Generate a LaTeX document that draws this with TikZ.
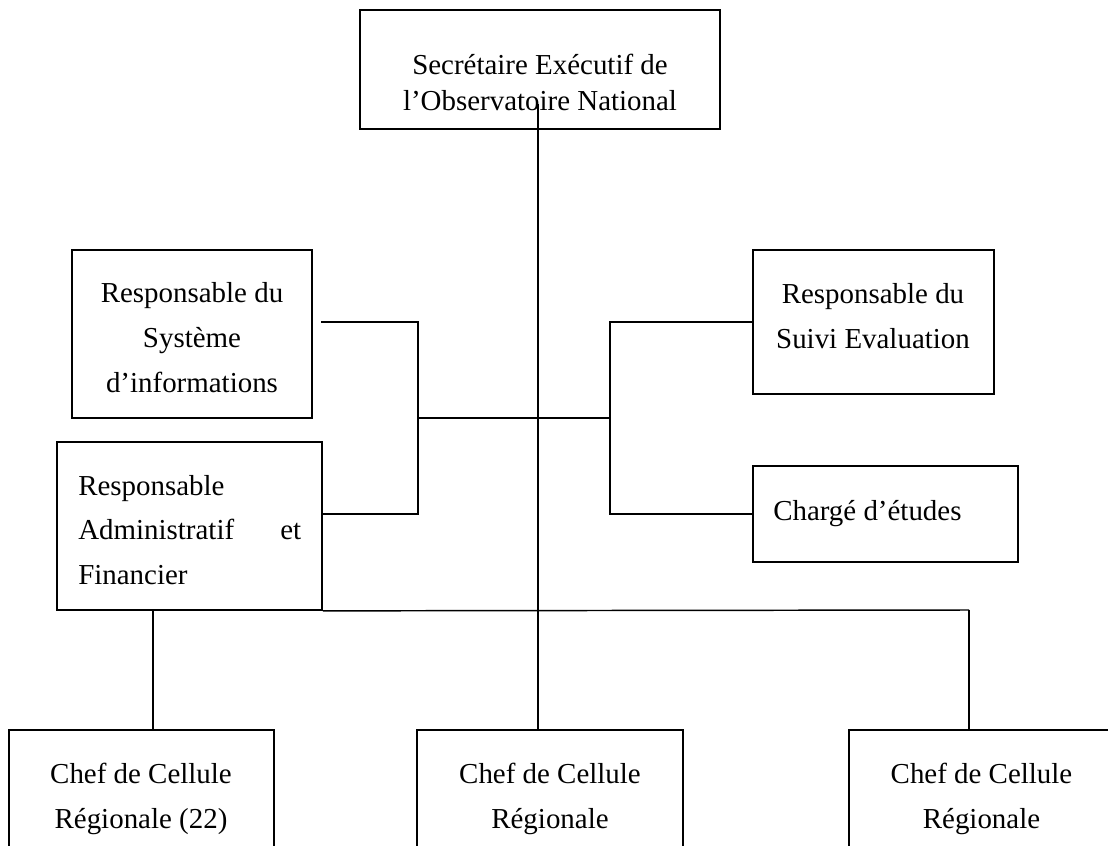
\documentclass[tikz,border=0pt]{standalone}
\usepackage{fontspec}
\setmainfont{Liberation Serif}
\begin{document}
\begin{tikzpicture}[x=0.75pt,y=-0.75pt,
  pbox/.style n args={2}{draw, line width=1.3pt, inner sep=0pt,
    minimum width=#1*0.75pt, minimum height=#2*0.75pt},
  conn/.style={line width=1.1pt},
  label/.style={inner sep=0pt, align=center,
    font=\fontsize{21.7}{33.4}\selectfont}]
\clip (0,0) rectangle (1108,846);
\fill[white] (0,0) rectangle (1108,846);

% boxes
\node[pbox={360}{119}] (se)  at (540,69.5) {};
\node[pbox={240}{168}] (rsi) at (192,334) {};
\node[pbox={265}{168}] (raf) at (189.5,526) {};
\node[pbox={241}{144}] (rse) at (873.5,322) {};
\node[pbox={265}{96}]  (ce)  at (885.5,514) {};
\node[pbox={265}{140}] (cr1) at (141.5,800) {};
\node[pbox={266}{140}] (cr2) at (550,800) {};
\node[pbox={265}{140}] (cr3) at (981.5,800) {};

% texts (centred blocks are placed by the baseline of their last line)
\node[label, anchor=base, font=\fontsize{21.7}{26.3}\selectfont] (se-t) at (540,110)
  {Secrétaire Exécutif de\\l’Observatoire National};
\node[label, anchor=base] (rsi-t) at (192,392) {Responsable du\\Système\\d’informations};
\node[label, anchor=base west, align=left, text width=223*0.75pt] (raf-t) at (78,495)
  {Responsable\\Administratif\hfill et\\Financier};
\node[label, anchor=base] (rse-t) at (873,348) {Responsable du\\Suivi Evaluation};
\node[label, anchor=base west] (ce-t) at (773,520) {Chargé d’études};
\node[label, anchor=base] (cr1-t) at (141,828) {Chef de Cellule\\Régionale (22)};
\node[label, anchor=base] (cr2-t) at (550,828) {Chef de Cellule\\Régionale};
\node[label, anchor=base] (cr3-t) at (981.5,828) {Chef de Cellule\\Régionale};

% junction points
\coordinate (spine) at (538,104);
\coordinate (rsi-out) at (321,322);
\coordinate (jl) at (418,418);
\coordinate (jr) at (610,418);
\coordinate (bar-l) at (153,610);
\coordinate (bar-r) at (969,610);

% connectors
\draw[conn] (spine) -- (spine |- cr2.north);
\draw[conn] (jl) -- (jr);
\draw[conn] (rsi-out) -| (jl) |- (raf.east |- ce.west);
\draw[conn] (rse.west) -| (jr) |- (ce.west);
\draw[conn] (raf.south east) -- (bar-r);
\draw[conn] (bar-l) -- (bar-l |- cr1.north);
\draw[conn] (bar-r) -- (bar-r |- cr3.north);
\end{tikzpicture}
\end{document}
